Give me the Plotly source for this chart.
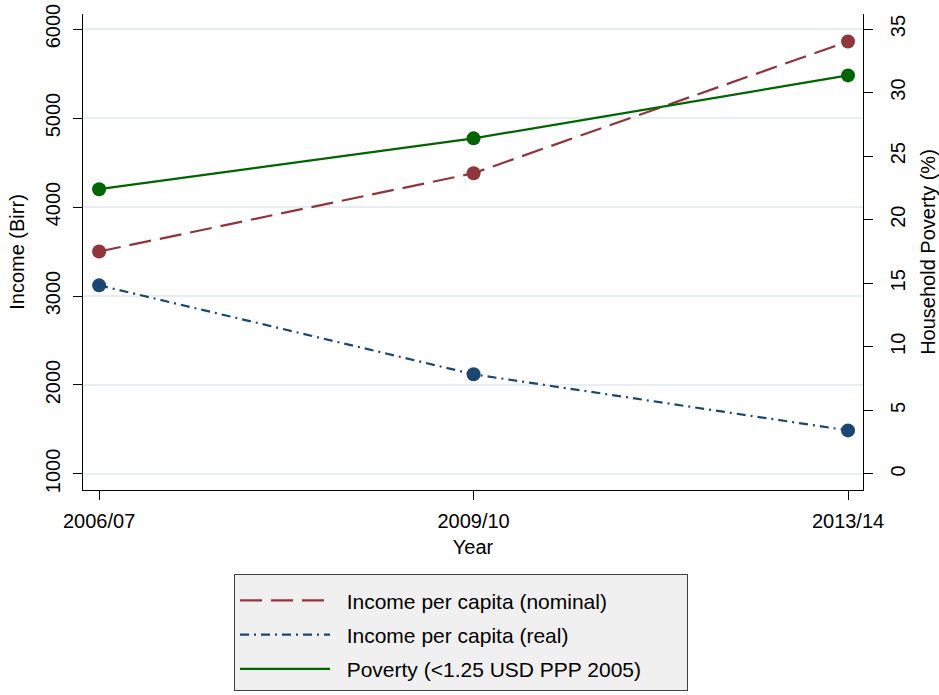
import plotly.graph_objects as go

years = ["2006/07", "2009/10", "2013/14"]
income_nominal = [3500, 4380, 5860]
income_real = [3120, 2120, 1490]
poverty = [22.4, 26.4, 31.35]

left_ticks = [1000, 2000, 3000, 4000, 5000, 6000]
right_ticks = [0, 5, 10, 15, 20, 25, 30, 35]

RED = "#90353b"
NAVY = "#1a476f"
GREEN = "#006400"
FONT = "Liberation Sans, Arial, sans-serif"
NB = "\u00a0"

fig = go.Figure()

# legend / line traces
fig.add_trace(go.Scatter(x=years, y=income_nominal, mode="lines", legendgroup="a",
                         name=NB * 2 + "Income per capita (nominal)",
                         line=dict(color=RED, width=2.2, dash="22px,9px")))
fig.add_trace(go.Scatter(x=years, y=income_real, mode="lines", legendgroup="b",
                         name=NB * 2 + "Income per capita (real)",
                         line=dict(color=NAVY, width=2.2, dash="9px,5px,2px,5px")))
fig.add_trace(go.Scatter(x=years, y=poverty, mode="lines", yaxis="y2", legendgroup="c",
                         name=NB * 2 + "Poverty (<1.25 USD PPP 2005)" + NB * 7,
                         line=dict(color=GREEN, width=2.2)))
# markers
fig.add_trace(go.Scatter(x=years, y=income_nominal, mode="markers", showlegend=False,
                         marker=dict(color=RED, size=14)))
fig.add_trace(go.Scatter(x=years, y=income_real, mode="markers", showlegend=False,
                         marker=dict(color=NAVY, size=14)))
fig.add_trace(go.Scatter(x=years, y=poverty, mode="markers", showlegend=False, yaxis="y2",
                         marker=dict(color=GREEN, size=14)))

fig.update_layout(
    width=939, height=695,
    margin=dict(l=83, r=76, t=14, b=205, autoexpand=False),
    paper_bgcolor="white", plot_bgcolor="white",
    font=dict(family=FONT, size=20, color="black"),
    xaxis=dict(
        type="category", range=[-0.043, 2.04], automargin=False,
        showline=True, linecolor="black", linewidth=1.2,
        ticks="outside", ticklen=9, tickcolor="black", tickwidth=1.2,
        showgrid=False, zeroline=False, ticklabelstandoff=4,
        title=dict(text="Year", font=dict(size=20), standoff=8),
        tickfont=dict(size=20),
    ),
    yaxis=dict(
        range=[820, 6169], tickvals=left_ticks, tickangle=-90, automargin=False,
        showline=True, linecolor="black", linewidth=1.2,
        ticks="outside", ticklen=9, tickcolor="black", tickwidth=1.2,
        showgrid=True, gridcolor="#e6eef1", gridwidth=1.5, zeroline=False,
        ticklabelstandoff=5, ticklabeloverflow="allow",
        title=dict(text="Income (Birr)", font=dict(size=20), standoff=11),
        tickfont=dict(size=20),
    ),
    yaxis2=dict(
        overlaying="y", side="right", automargin=False,
        range=[-1.26, 36.18], tickvals=right_ticks, tickangle=-90,
        showline=True, linecolor="black", linewidth=1.2,
        ticks="outside", ticklen=9, tickcolor="black", tickwidth=1.2,
        showgrid=False, zeroline=False, ticklabelstandoff=8, ticklabeloverflow="allow",
        title=dict(text="Household Poverty (%)", font=dict(size=20), standoff=14),
        tickfont=dict(size=20),
    ),
    legend=dict(
        x=0.1936, xanchor="left", y=-0.1765, yanchor="top",
        bgcolor="#f0f0f0", bordercolor="#404040", borderwidth=1,
        font=dict(size=21), itemwidth=90, traceorder="grouped", tracegroupgap=4,
        title=dict(text=NB, font=dict(size=4)),
    ),
)

fig.write_html(
    "out.html",
    config={"displayModeBar": False},
    post_script="document.documentElement.style.margin='0';document.body.style.margin='0';"
                "document.body.style.padding='0';document.body.style.overflow='hidden';",
)
